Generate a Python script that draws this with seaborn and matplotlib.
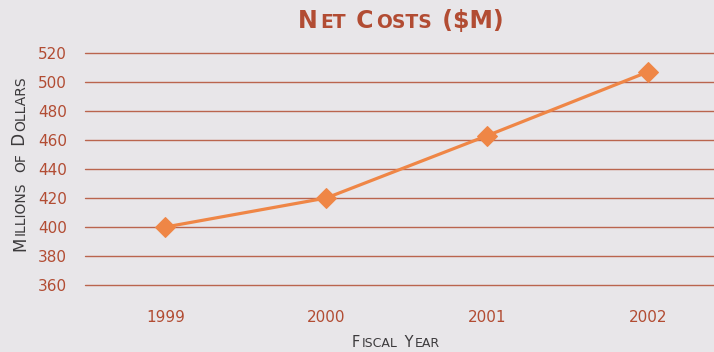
import matplotlib
matplotlib.use("Agg")
import matplotlib.pyplot as plt
import seaborn as sns
import pandas as pd

years = ["1999", "2000", "2001", "2002"]
net_costs = [400, 420, 463, 507]
y_ticks = [360, 380, 400, 420, 440, 460, 480, 500, 520]
title_text = "Net Costs ($M)"
ylabel_text = "Millions of Dollars"
xlabel_text = "Fiscal Year"

sns.set_theme(style="white")
plt.rcParams['font.family'] = ['DejaVu Sans']

bg = "#e8e6e9"
grid_c = "#b5573d"
text_c = "#b24c33"
line_c = "#ef8646"
dark_c = "#3c3a3c"

df = pd.DataFrame({"year": years, "cost": net_costs})

fig = plt.figure(figsize=(7.14, 3.52), dpi=100, facecolor=bg)
ax = fig.add_axes([85 / 714, 1 - 285 / 352, 1 - 85 / 714, (285 - 53) / 352])
ax.set_facecolor(bg)

for t in y_ticks:
    ax.axhline(t, color=grid_c, lw=1.0, alpha=0.9, zorder=1, clip_on=False)

sns.lineplot(data=df, x="year", y="cost", ax=ax, color=line_c, lw=2.3,
             marker="D", markersize=10.5, markeredgecolor=line_c, sort=False,
             zorder=3, clip_on=False)

ax.set_xlim(-0.5, 3.41)
ax.set_ylim(360, 520)
ax.set_yticks(y_ticks)
ax.set_yticklabels([str(t) for t in y_ticks], color=text_c, fontsize=11)
ax.set_xticks(range(len(years)))
ax.set_xticklabels(years, color=text_c, fontsize=11)
ax.tick_params(axis="x", length=0, pad=18)
ax.tick_params(axis="y", length=0, pad=13)
for s in ax.spines.values():
    s.set_visible(False)
ax.set_xlabel("")
ax.set_ylabel("")


def smallcaps(x, y, text, big, small, rotation=0, gap=1.0, **kw):
    """Place text in small caps centred at (x, y) pixel coords."""
    runs = []
    for ch in text:
        is_big = not ch.islower()
        if runs and runs[-1][1] == is_big:
            runs[-1][0] += ch
        else:
            runs.append([ch, is_big])
    renderer = fig.canvas.get_renderer()
    objs = []
    lengths = []
    for s, is_big in runs:
        t = fig.text(0, 0, s.upper(), fontsize=big if is_big else small,
                     rotation=rotation, ha="left", va="baseline",
                     rotation_mode="anchor", transform=None, **kw)
        bb = t.get_window_extent(renderer)
        lengths.append((bb.height if rotation == 90 else bb.width) + gap)
        objs.append(t)
    total = sum(lengths) - gap
    H = fig.bbox.height
    pos = -total / 2
    for t, L in zip(objs, lengths):
        if rotation == 90:
            t.set_position((x, H - y + pos))
        else:
            t.set_position((x + pos, H - y))
        pos += L


smallcaps(401, 28, title_text, 17, 13.5, color=text_c, gap=2.5, fontweight="bold")
smallcaps(25, 164, ylabel_text, 12, 10, rotation=90, color=dark_c, gap=2.0)
smallcaps(396, 347, xlabel_text, 10.5, 9, color=dark_c, gap=2.0)

fig.savefig("out.png", dpi=100, facecolor=bg)
